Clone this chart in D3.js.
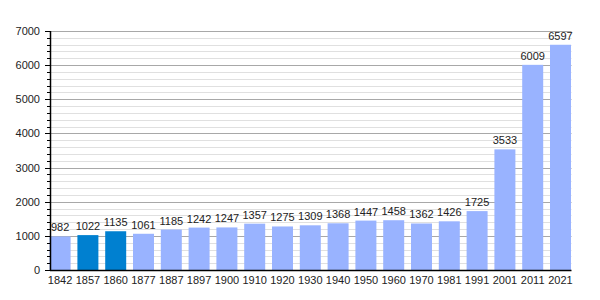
<!DOCTYPE html>
<html><head><meta charset="utf-8">
<script src="https://cdn.jsdelivr.net/npm/d3@7"></script>
<style>body{margin:0;background:#fff}text{font-family:"Liberation Sans",Arial,sans-serif;fill:#222}</style>
</head><body><svg id="c" width="600" height="300"></svg>
<script>
const years = ["1842","1857","1860","1877","1887","1897","1900","1910","1920","1930","1940","1950","1960","1970","1981","1991","2001","2011","2021"];
const population = [982,1022,1135,1061,1185,1242,1247,1357,1275,1309,1368,1447,1458,1362,1426,1725,3533,6009,6597];
const highlighted = ["1857","1860"];
const yTicks = [0,1000,2000,3000,4000,5000,6000,7000];

(function(){
const svg = d3.select("#c");
const pL = 51, pR = 571.5, pT = 31, pB = 270;
const x = d3.scaleBand().domain(years).range([46.2, 574.4]).paddingInner(0.245).paddingOuter(0.1225);
const y = d3.scaleLinear().domain([0,7000]).range([pB, pT]);

const minor = d3.range(0, 7001, 200);
svg.append("g").selectAll("line").data(minor.filter(v => v % 1000 !== 0)).join("line")
  .attr("x1", pL).attr("x2", pR).attr("y1", d => Math.round(y(d))+0.5).attr("y2", d => Math.round(y(d))+0.5)
  .attr("stroke", "#e0e0e0").attr("stroke-width", 1);
svg.append("g").selectAll("line").data(yTicks.filter(v => v > 0)).join("line")
  .attr("x1", pL).attr("x2", pR).attr("y1", d => Math.round(y(d))+0.5).attr("y2", d => Math.round(y(d))+0.5)
  .attr("stroke", "#a8a8a8").attr("stroke-width", 1);

svg.append("g").selectAll("rect").data(years).join("rect")
  .attr("x", d => x(d)).attr("width", x.bandwidth())
  .attr("y", (d,i) => y(population[i])).attr("height", (d,i) => pB - y(population[i]))
  .attr("fill", d => highlighted.includes(d) ? "#0080d0" : "#99b3ff");

svg.append("g").selectAll("text").data(years).join("text")
  .attr("x", d => x(d) + x.bandwidth()/2).attr("y", (d,i) => y(population[i]) - 5)
  .attr("text-anchor", "middle").attr("font-size", 11).text((d,i) => population[i]);

const ya = svg.append("g");
ya.selectAll("line.mn").data(minor).join("line").attr("class","mn")
  .attr("x1", 47).attr("x2", pL).attr("y1", d => Math.round(y(d))+0.5).attr("y2", d => Math.round(y(d))+0.5)
  .attr("stroke", "#000");
ya.selectAll("line.mj").data(yTicks).join("line").attr("class","mj")
  .attr("x1", 45).attr("x2", pL).attr("y1", d => Math.round(y(d))+0.5).attr("y2", d => Math.round(y(d))+0.5)
  .attr("stroke", "#000");
ya.selectAll("text").data(yTicks).join("text")
  .attr("x", 40).attr("y", d => y(d) + 4).attr("text-anchor", "end").attr("font-size", 11).text(d => d);
svg.append("line").attr("x1", pL-0.5).attr("x2", pL-0.5).attr("y1", pT).attr("y2", pB+1).attr("stroke", "#000").attr("stroke-width", 1.5);
svg.append("line").attr("x1", pL-1).attr("x2", pR).attr("y1", pB+0.5).attr("y2", pB+0.5).attr("stroke", "#000").attr("stroke-width", 1.5);

svg.append("g").selectAll("text").data(years).join("text")
  .attr("x", d => x(d) + x.bandwidth()/2).attr("y", 284)
  .attr("text-anchor", "middle").attr("font-size", 11).text(d => d);
})();
</script></body></html>
